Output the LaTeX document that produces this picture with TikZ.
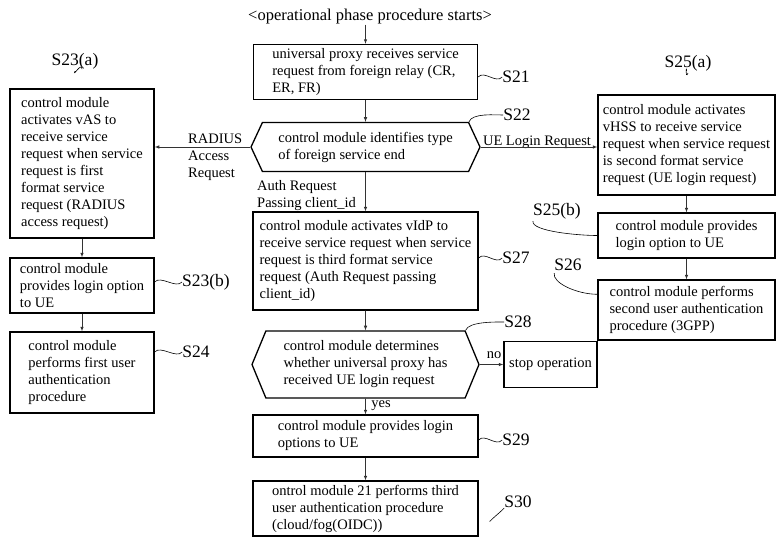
\documentclass[tikz,border=0pt]{standalone}
\usepackage{fontspec}
\setmainfont{Liberation Serif}
\usetikzlibrary{shapes.symbols}
\newcommand{\boxfont}{\fontsize{14.5}{17}\selectfont}
\newcommand{\labfont}{\fontsize{17.5}{19}\selectfont}
\newcommand{\titlefont}{\fontsize{16.5}{18}\selectfont}
\tikzset{
    box/.style={draw, line width=1.3pt, align=left, inner sep=0pt, font=\boxfont},
    hexbox/.style={box, signal, signal to=west and east, signal pointer angle=130},
    txt/.style={inner sep=0pt, align=left, font=\boxfont},
    steplab/.style={inner sep=0pt, font=\labfont},
    lead/.style={line width=0.6pt},
    flow/.style={->, line width=0.6pt, black!80},
}
\begin{document}
\begin{tikzpicture}[>=latex, x=1pt, y=-1pt]
    \useasboundingbox (0,0) rectangle (777,538);

    % main column
    \node [txt, font=\titlefont] (start) at (370,17) {<operational phase procedure starts>};
    \node [box, minimum width=224pt, minimum height=55pt] (s21) at (365.5,72)
        {universal proxy receives service\\request from foreign relay (CR,\\ER, FR)};
    \node [hexbox, minimum width=229pt, minimum height=49pt] (s22) at (365.5,147)
        {control module identifies type\\of foreign service end};
    \node [box, minimum width=225pt, minimum height=98pt] (s27) at (365.5,261)
        {control module activates vIdP to\\receive service request when service\\request is third format service\\request (Auth Request passing\\client\_id)};
    \node [hexbox, signal pointer angle=135, minimum width=227pt, minimum height=67pt] (s28) at (365.5,364.5)
        {control module determines\\whether universal proxy has\\received UE login request};
    \node [box, minimum width=93pt, minimum height=46pt] (stop) at (550.5,364.5) {stop operation};
    \node [box, minimum width=225pt, minimum height=42pt] (s29) at (365.5,436)
        {control module provides login\\options to UE};
    \node [box, minimum width=225pt, minimum height=55pt] (s30) at (365.5,508.5)
        {ontrol module 21 performs third\\user authentication procedure\\(cloud/fog(OIDC))};

    % left column
    \node [box, minimum width=144pt, minimum height=149pt] (s23a) at (82,163.5)
        {control module\\activates vAS to\\receive service\\request when service\\request is first\\format service\\request (RADIUS\\access request)};
    \node [box, minimum width=144pt, minimum height=55pt] (s23b) at (82,285.5)
        {control module\\provides login option\\to UE};
    \node [box, minimum width=144pt, minimum height=81pt] (s24) at (82,372.5)
        {control module\\performs first user\\authentication\\procedure};

    % right column
    \node [box, minimum width=177pt, minimum height=100pt] (s25a) at (686.5,145)
        {control module activates\\vHSS to receive service\\request when service request\\is second format service\\request (UE login request)};
    \node [box, minimum width=177pt, minimum height=45pt] (s25b) at (686.5,235.5)
        {control module provides\\login option to UE};
    \node [box, minimum width=177pt, minimum height=60pt] (s26) at (686.5,310)
        {control module performs\\second user authentication\\procedure (3GPP)};

    % arrow texts
    \node [txt, anchor=north west] (radius) at (188,134) {RADIUS\\Access\\Request};
    \node [txt, anchor=base] (uelogin) at (537,145) {UE Login Request};
    \node [txt, anchor=north west] (auth) at (257,180) {Auth Request\\Passing client\_id};
    \node [txt] (no) at (494,355) {no};
    \node [txt] (yes) at (381,406) {yes};

    % flow
    \draw [flow] (start.south -| s21.north) -- (s21.north);
    \draw [flow] (s21) -- (s22);
    \draw [flow] (s22) -- (s27);
    \draw [flow] (s27) -- (s28);
    \draw [flow] (s28) -- (s29);
    \draw [flow] (s29) -- (s30);
    \draw [flow] (s28.east) -- (stop.west);
    \draw [flow] (s22.west) -- (s22.west -| s23a.east);
    \draw [flow] (s22.east) -- (s22.east -| s25a.west);
    \draw [flow] (s23a) -- (s23b);
    \draw [flow] (s23b) -- (s24);
    \draw [flow] (s25a) -- (s25b);
    \draw [flow] (s25b) -- (s26);

    % step labels
    \node [steplab] (s21lab) at (516,77) {S21};
    \node [steplab] (s22lab) at (517,115) {S22};
    \node [steplab] (s27lab) at (516,258) {S27};
    \node [steplab] (s28lab) at (518,322) {S28};
    \node [steplab] (s29lab) at (516,440) {S29};
    \node [steplab] (s30lab) at (518,502) {S30};
    \node [steplab] (s23alab) at (75,61) {S23(a)};
    \node [steplab] (s23blab) at (206,282) {S23(b)};
    \node [steplab] (s24lab) at (196,352) {S24};
    \node [steplab] (s25alab) at (688,63) {S25(a)};
    \node [steplab] (s25blab) at (557,211) {S25(b)};
    \node [steplab] (s26lab) at (568,265) {S26};

    \draw [lead] (s21.east |- s21lab) .. controls +(6,-7) and +(-6,7) .. (s21lab.west);
    \draw [lead] (s27.east |- s27lab) .. controls +(6,-7) and +(-6,7) .. (s27lab.west);
    \draw [lead] (s29.east |- s29lab) .. controls +(6,-7) and +(-6,7) .. (s29lab.west);
    \draw [lead] (s23b.east |- s23blab) .. controls +(6,-7) and +(-6,7) .. (s23blab.west);
    \draw [lead] (s24.east |- s24lab) .. controls +(6,-7) and +(-6,7) .. (s24lab.west);
    \draw [lead] ([shift={(11pt,-13pt)}]s30.east) .. controls +(6,-6) and +(-6,6) .. (s30lab.south west);
    \draw [lead] (s22.north east) .. controls +(3,-9) and +(-8,0) .. (s22lab.west);
    \draw [lead] (s28.north east) .. controls +(3,-9) and +(-8,0) .. (s28lab.west);
    \draw [lead] ([yshift=-2pt]s23alab.south) .. controls +(-3,7) and +(0,-8) .. (s23alab.south -| s23a.north);
    \draw [lead] ([yshift=-2pt]s25alab.south) .. controls +(-3,7) and +(0,-8) .. (s25alab.south -| s25a.north);
    \draw [lead] ([yshift=-2pt]s25blab.south west) .. controls +(-2,10) and +(-20,0) .. (s25b.west);
    \draw [lead] ([yshift=-2pt]s26lab.south west) .. controls +(-2,10) and +(-20,0) .. (s26.170);
\end{tikzpicture}
\end{document}
